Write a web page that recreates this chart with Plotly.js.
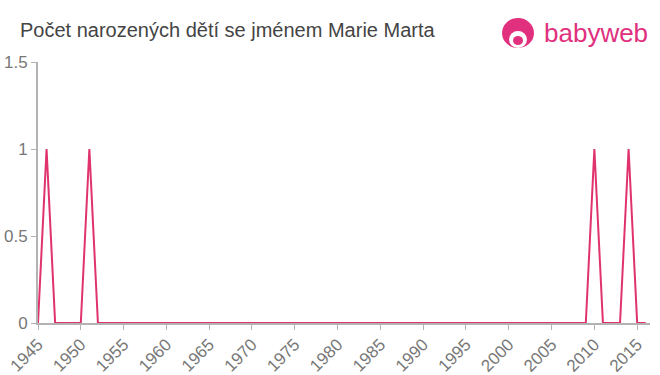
<!DOCTYPE html>
<html><head><meta charset="utf-8">
<script src="https://cdn.plot.ly/plotly-3.0.1.min.js"></script>
<style>html,body{margin:0;padding:0;background:#fff}#c{width:660px;height:375px}</style>
</head><body><div id="c"></div>
<script>
const years = [];
for (let y = 1945; y <= 2016; y++) years.push(y);
const nonZero = {1946: 1, 1951: 1, 2010: 1, 2014: 1};
const counts = years.map(y => nonZero[y] || 0);
const tickVals = [1945,1950,1955,1960,1965,1970,1975,1980,1985,1990,1995,2000,2005,2010,2015];

const trace = {
  x: years, y: counts, type: 'scatter', mode: 'lines',
  line: {color: '#e0336d', width: 2}, hoverinfo: 'x+y'
};
const F = 'Liberation Sans, Arial, sans-serif';
const pink = '#e0307e';
const lx = (518 - 38) / 612, ly = 1 + (62 - 33) / 261;
const layout = {
  width: 660, height: 375,
  margin: {l: 38, r: 10, t: 62, b: 52},
  paper_bgcolor: '#fff', plot_bgcolor: '#fff',
  showlegend: false,
  title: {text: 'Počet narozených dětí se jménem Marie Marta', x: 20 / 660, xanchor: 'left', y: 0.92, yanchor: 'middle',
          font: {family: F, size: 20, color: '#444'}},
  xaxis: {range: [1945, 2016.5], tickvals: tickVals, ticktext: tickVals.map(String), tickangle: -45,
          showgrid: false, zeroline: false, showline: true, linecolor: '#b3b3b3', linewidth: 2,
          ticks: 'outside', tickcolor: '#b3b3b3', ticklen: 5, tickwidth: 1, ticklabelstandoff: -2,
          tickfont: {family: F, size: 17, color: '#777'}},
  yaxis: {range: [0, 1.5], tickvals: [0, 0.5, 1, 1.5], ticktext: ['0', '0.5', '1', '1.5'],
          showgrid: false, zeroline: false, showline: true, linecolor: '#b3b3b3', linewidth: 2,
          ticks: 'outside', tickcolor: '#b3b3b3', ticklen: 5, tickwidth: 1,
          tickfont: {family: F, size: 17, color: '#777'}},
  shapes: [
    {type: 'circle', xref: 'paper', yref: 'paper', xsizemode: 'pixel', ysizemode: 'pixel',
     xanchor: lx, yanchor: ly, x0: -16, x1: 16, y0: -15, y1: 15, fillcolor: pink, line: {width: 0}},
    {type: 'circle', xref: 'paper', yref: 'paper', xsizemode: 'pixel', ysizemode: 'pixel',
     xanchor: lx, yanchor: ly, x0: -9, x1: 9, y0: -15, y1: 2, fillcolor: '#fff', line: {width: 0}},
    {type: 'circle', xref: 'paper', yref: 'paper', xsizemode: 'pixel', ysizemode: 'pixel',
     xanchor: lx, yanchor: ly, x0: -5, x1: 5, y0: -12, y1: -3, fillcolor: pink, line: {width: 0}}
  ],
  annotations: [
    {text: 'babyweb', xref: 'paper', yref: 'paper', x: 1.0, y: ly, xanchor: 'right', yanchor: 'middle',
     showarrow: false, font: {family: F, size: 26, color: pink}}
  ]
};
Plotly.newPlot('c', [trace], layout, {displayModeBar: false, staticPlot: true});
</script></body></html>
